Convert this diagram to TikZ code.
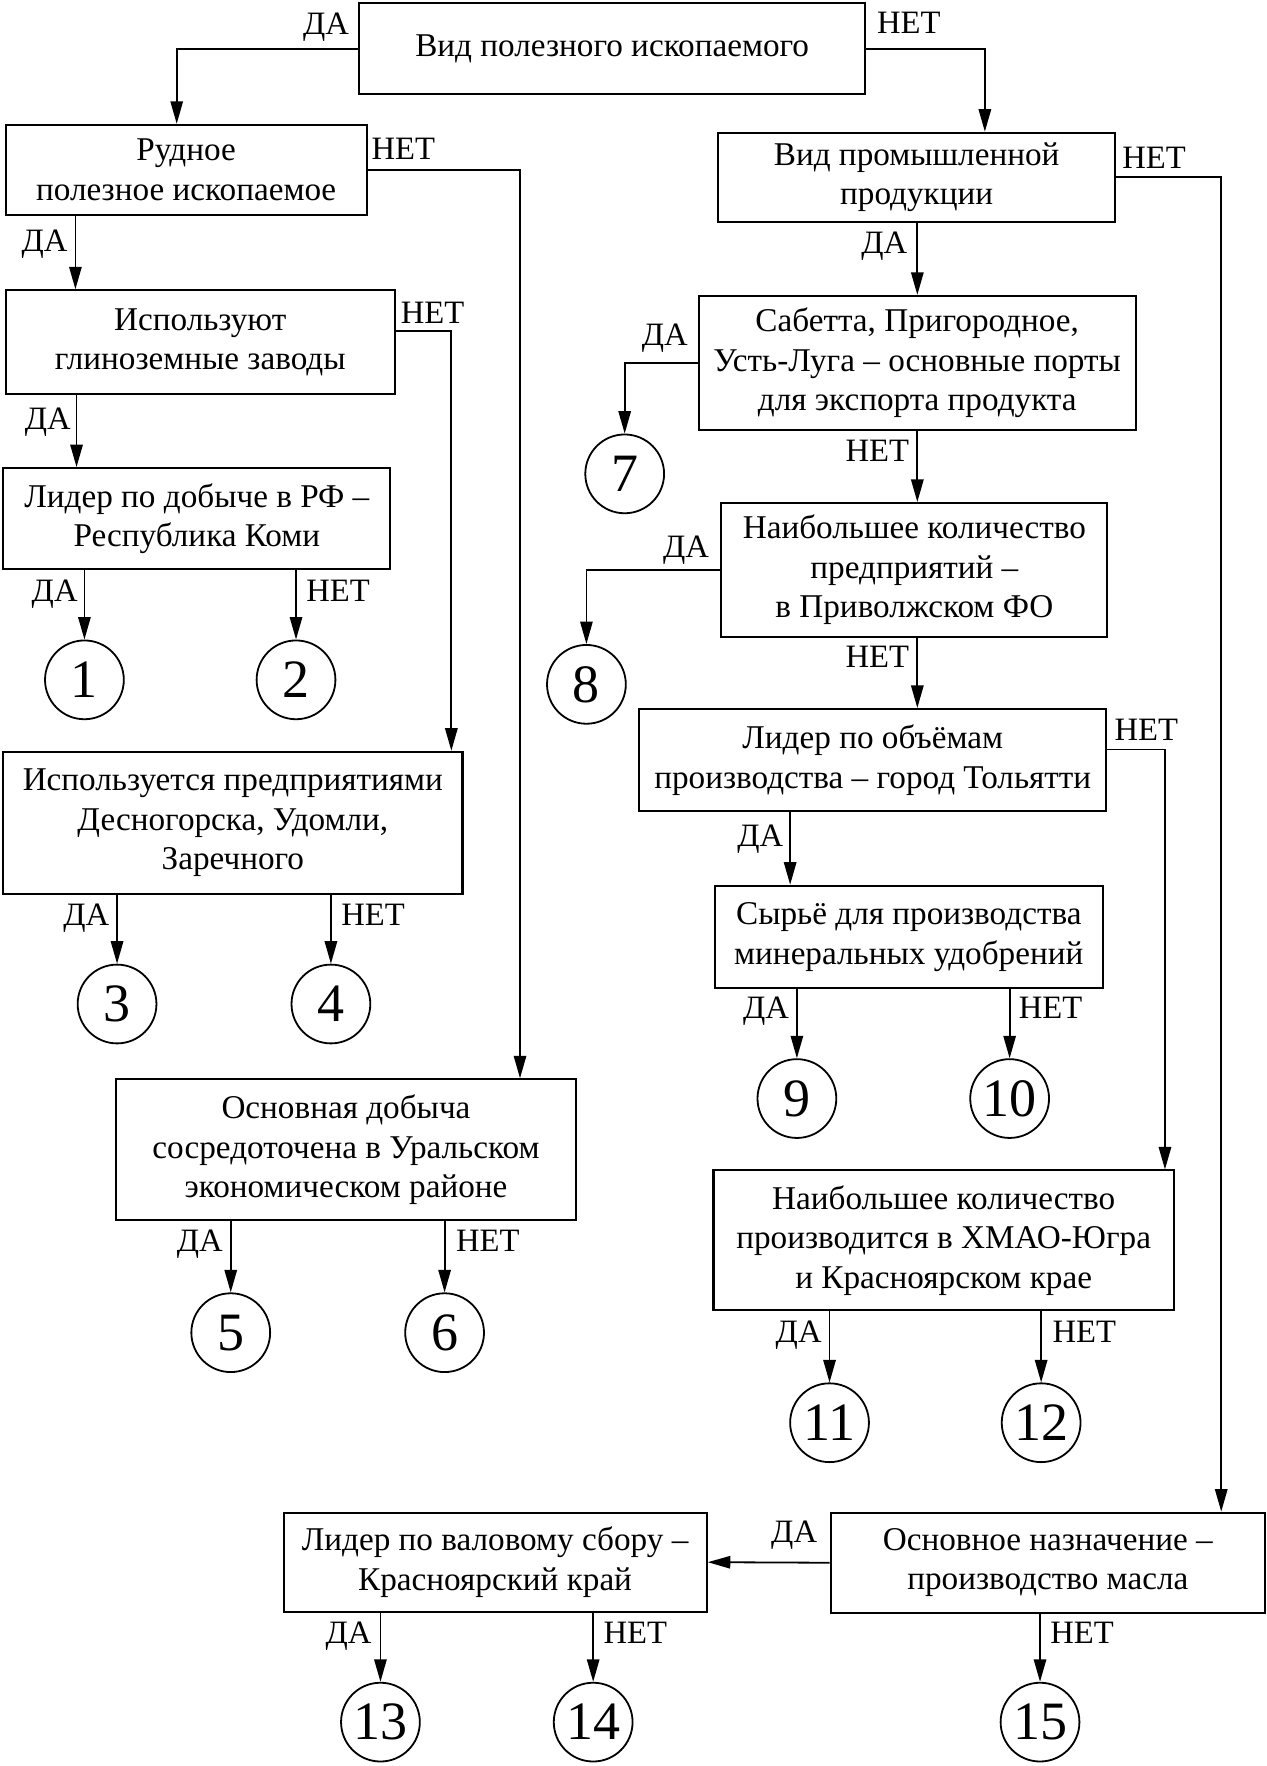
\documentclass[tikz,border=0pt]{standalone}
\usepackage{fontspec}
\setmainfont{Liberation Serif}
\usetikzlibrary{arrows.meta}
\begin{document}
\begin{tikzpicture}[x=1pt,y=-1pt,
  box/.style={draw, line width=1.8pt, align=center, inner sep=0pt, anchor=north west, font=\fontsize{29.5}{35}\selectfont},
  circ/.style={draw, circle, line width=1.6pt, minimum size=70pt, inner sep=0pt, font=\fontsize{48}{48}\selectfont},
  arr/.style={line width=1.6pt, -{Triangle[length=20pt,width=11pt]}},
  lbl/.style={inner sep=0pt, font=\fontsize{29}{34}\selectfont}]
\useasboundingbox (0,0) rectangle (1125,1569);
% boxes
\node[box, minimum width=450pt, minimum height=81pt] (T) at (318,2) {\raisebox{3pt}{Вид полезного ископаемого}};
\node[box, minimum width=321pt, minimum height=80pt] (R) at (4,110) {Рудное\\полезное ископаемое};
\node[box, minimum width=346pt, minimum height=92pt] (I) at (4,257) {Используют\\глиноземные заводы};
\node[box, minimum width=344pt, minimum height=90pt] (L) at (2,415) {Лидер по добыче в РФ –\\Республика Коми};
\node[box, minimum width=408pt, minimum height=126pt] (U) at (2,667) {Используется предприятиями\\Десногорска, Удомли,\\Заречного};
\node[box, minimum width=409pt, minimum height=125pt] (O) at (102,958) {Основная добыча\\сосредоточена в Уральском\\экономическом районе};
\node[box, minimum width=353pt, minimum height=79pt] (V) at (637,117) {Вид промышленной\\продукции};
\node[box, minimum width=388pt, minimum height=119pt] (S) at (620,262) {Сабетта, Пригородное,\\Усть-Луга – основные порты\\для экспорта продукта};
\node[box, minimum width=343pt, minimum height=119pt] (N) at (640,446) {Наибольшее количество\\предприятий –\\в Приволжском ФО};
\node[box, minimum width=415pt, minimum height=91pt] (LT) at (567,629) {Лидер по объёмам\\производства – город Тольятти};
\node[box, minimum width=345pt, minimum height=91pt] (SY) at (634,786) {Сырьё для производства\\минеральных удобрений};
\node[box, minimum width=409pt, minimum height=124pt] (H) at (633,1039) {Наибольшее количество\\производится в ХМАО-Югра\\и Красноярском крае};
\node[box, minimum width=386pt, minimum height=89pt] (M) at (737,1343) {Основное назначение –\\производство масла};
\node[box, minimum width=376pt, minimum height=88pt] (K) at (251,1343) {Лидер по валовому сбору –\\Красноярский край};
% circles
\node[circ] (c1) at (75,604) {1};
\node[circ] (c2) at (263,604) {2};
\node[circ] (c3) at (104,892) {3};
\node[circ] (c4) at (294,892) {4};
\node[circ] (c5) at (205,1184) {5};
\node[circ] (c6) at (395,1184) {6};
\node[circ] (c7) at (555,421) {7};
\node[circ] (c8) at (521,608) {8};
\node[circ] (c9) at (708,976) {9};
\node[circ] (c10) at (897,976) {10};
\node[circ] (c11) at (737,1264) {11};
\node[circ] (c12) at (925,1264) {12};
\node[circ] (c13) at (338,1530) {13};
\node[circ] (c14) at (527,1530) {14};
\node[circ] (c15) at (924,1530) {15};
% connectors
\draw[arr] (T.west) -| ([xshift=153pt]R.north west);
\draw[arr] (T.east) -| ([xshift=238pt]V.north west);
\draw[arr] ([xshift=63pt]R.south west) -- ([xshift=63pt]I.north west);
\draw[arr] (R.east) -| ([xshift=360pt]O.north west);
\draw[arr] ([xshift=64pt]I.south west) -- ([xshift=66pt]L.north west);
\draw[arr] ([yshift=10pt]I.east) -| ([xshift=399pt]U.north west);
\draw[arr] (c1.north |- L.south) -- (c1.north);
\draw[arr] (c2.north |- L.south) -- (c2.north);
\draw[arr] (c3.north |- U.south) -- (c3.north);
\draw[arr] (c4.north |- U.south) -- (c4.north);
\draw[arr] (c5.north |- O.south) -- (c5.north);
\draw[arr] (c6.north |- O.south) -- (c6.north);
\draw[arr] ([xshift=178pt]V.south west) -- ([xshift=195pt]S.north west);
\draw[arr] (V.east) -| ([xshift=348pt]M.north west);
\draw[arr] (S.west) -| (c7.north);
\draw[arr] ([xshift=195pt]S.south west) -- ([xshift=175pt]N.north west);
\draw[arr] (N.west) -| (c8.north);
\draw[arr] ([xshift=175pt]N.south west) -- ([xshift=248pt]LT.north west);
\draw[arr] ([xshift=135pt]LT.south west) -- ([xshift=68pt]SY.north west);
\draw[arr] ([yshift=9.5pt]LT.east) -| ([xshift=402pt]H.north west);
\draw[arr] (c9.north |- SY.south) -- (c9.north);
\draw[arr] (c10.north |- SY.south) -- (c10.north);
\draw[arr] (c11.north |- H.south) -- (c11.north);
\draw[arr] (c12.north |- H.south) -- (c12.north);
\draw[arr] (M.west) -- (K.east);
\draw[arr] (c15.north |- M.south) -- (c15.north);
\draw[arr] (c13.north |- K.south) -- (c13.north);
\draw[arr] (c14.north |- K.south) -- (c14.north);
% labels
\node[lbl, anchor=base west] (l1) at (269,31) {ДА};
\node[lbl, anchor=base west] (l2) at (779,30) {НЕТ};
\node[lbl, anchor=base west] (l3) at (330,142) {НЕТ};
\node[lbl, anchor=base west] (l4) at (19,223) {ДА};
\node[lbl, anchor=base west] (l5) at (356,287) {НЕТ};
\node[lbl, anchor=base west] (l6) at (22,382) {ДА};
\node[lbl, anchor=base west] (l7) at (28,534) {ДА};
\node[lbl, anchor=base west] (l8) at (272,534) {НЕТ};
\node[lbl, anchor=base west] (l9) at (56,822) {ДА};
\node[lbl, anchor=base west] (l10) at (303,822) {НЕТ};
\node[lbl, anchor=base west] (l11) at (157,1112) {ДА};
\node[lbl, anchor=base west] (l12) at (405,1112) {НЕТ};
\node[lbl, anchor=base west] (l13) at (765,225) {ДА};
\node[lbl, anchor=base west] (l14) at (997,150) {НЕТ};
\node[lbl, anchor=base west] (l15) at (570,307) {ДА};
\node[lbl, anchor=base west] (l16) at (751,410) {НЕТ};
\node[lbl, anchor=base west] (l17) at (589,495) {ДА};
\node[lbl, anchor=base west] (l18) at (751,593) {НЕТ};
\node[lbl, anchor=base west] (l19) at (655,752) {ДА};
\node[lbl, anchor=base west] (l20) at (990,658) {НЕТ};
\node[lbl, anchor=base west] (l21) at (660,905) {ДА};
\node[lbl, anchor=base west] (l22) at (905,905) {НЕТ};
\node[lbl, anchor=base west] (l23) at (689,1193) {ДА};
\node[lbl, anchor=base west] (l24) at (935,1193) {НЕТ};
\node[lbl, anchor=base west] (l25) at (685,1370) {ДА};
\node[lbl, anchor=base west] (l26) at (933,1460) {НЕТ};
\node[lbl, anchor=base west] (l27) at (289,1460) {ДА};
\node[lbl, anchor=base west] (l28) at (536,1460) {НЕТ};
\end{tikzpicture}
\end{document}
